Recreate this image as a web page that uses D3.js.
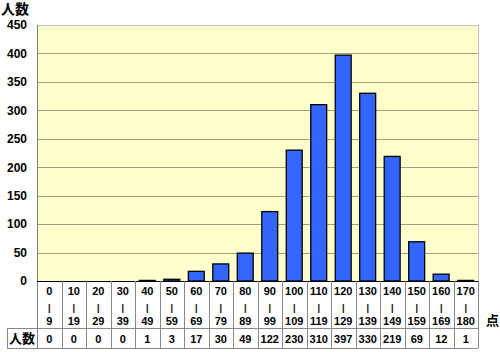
<!DOCTYPE html>
<html>
<head>
<meta charset="utf-8">
<script src="https://cdn.jsdelivr.net/npm/d3@7"></script>
<style>
  body { margin: 0; background: #fff; }
  text { font-family: "Liberation Sans", Arial, sans-serif; }
  .jp { font-family: "Noto Sans CJK JP", sans-serif; font-weight: bold; }
</style>
</head>
<body>
<div id="chart"></div>
<script>
const lo = ["0","10","20","30","40","50","60","70","80","90","100","110","120","130","140","150","160","170"];
const hi = ["9","19","29","39","49","59","69","79","89","99","109","119","129","139","149","159","169","180"];
const counts = [0, 0, 0, 0, 1, 3, 17, 30, 49, 122, 230, 310, 397, 330, 219, 69, 12, 1];
const yTicks = [0, 50, 100, 150, 200, 250, 300, 350, 400, 450];

const width = 500, height = 352;
const mLeft = 37, mRight = 478, mTop = 25, mBottom = 281;
const row1 = 328, row2 = 348;

const svg = d3.select('#chart').append('svg')
    .attr('width', width)
    .attr('height', height);

const x = d3.scaleBand()
    .domain(d3.range(counts.length))
    .range([mLeft, mRight])
    .paddingInner(0.35)
    .paddingOuter(0.18);
const xs = d3.scaleBand()
    .domain(d3.range(counts.length))
    .range([mLeft, mRight]);
const y = d3.scaleLinear().domain([0, 450]).range([mBottom, mTop]);

// plot background
svg.append('rect')
    .attr('x', mLeft + 0.5).attr('y', mTop + 0.5)
    .attr('width', mRight - mLeft).attr('height', mBottom - mTop)
    .attr('fill', '#ffffcc')
    .attr('stroke', '#c0c0c0');

// gridlines
svg.append('g').selectAll('line')
    .data(yTicks.filter(d => d > 0 && d < 450))
    .enter().append('line')
    .attr('x1', mLeft).attr('x2', mRight)
    .attr('y1', d => Math.round(y(d)) + 0.5).attr('y2', d => Math.round(y(d)) + 0.5)
    .attr('stroke', '#a09f80');

// y labels
svg.append('g').selectAll('text')
    .data(yTicks)
    .enter().append('text')
    .attr('x', 27)
    .attr('y', d => y(d))
    .attr('dy', '0.36em')
    .attr('text-anchor', 'end')
    .attr('font-size', 12)
    .attr('font-weight', 'bold')
    .attr('fill', '#000')
    .text(d => d);

svg.append('text')
    .attr('class', 'jp')
    .attr('x', 1).attr('y', 14)
    .attr('font-size', 14)
    .text('人数');

// left axis line
svg.append('line')
    .attr('x1', mLeft + 0.5).attr('x2', mLeft + 0.5)
    .attr('y1', mTop).attr('y2', row2)
    .attr('stroke', '#808080');

// bars
svg.append('g').selectAll('rect')
    .data(counts)
    .enter().append('rect')
    .attr('x', (d, i) => x(i))
    .attr('y', d => y(d))
    .attr('width', x.bandwidth())
    .attr('height', d => mBottom - y(d))
    .attr('fill', '#3366ff')
    .attr('stroke', '#000')
    .attr('stroke-width', 1.3);

// table
const table = svg.append('g');
[mBottom, row1, row2].forEach(yy => {
  table.append('line')
    .attr('x1', yy === mBottom ? mLeft : 7).attr('x2', mRight)
    .attr('y1', yy + 0.5).attr('y2', yy + 0.5)
    .attr('stroke', yy === mBottom ? '#000' : '#888');
});
table.append('line')
    .attr('x1', 7.5).attr('x2', 7.5)
    .attr('y1', row1).attr('y2', row2)
    .attr('stroke', '#888');
table.selectAll('.sep')
    .data(d3.range(1, counts.length + 1))
    .enter().append('line')
    .attr('class', 'sep')
    .attr('x1', i => Math.round(xs(i - 1) + xs.bandwidth()) + 0.5)
    .attr('x2', i => Math.round(xs(i - 1) + xs.bandwidth()) + 0.5)
    .attr('y1', mBottom).attr('y2', row2)
    .attr('stroke', '#888');

const cx = i => xs(i) + xs.bandwidth() / 2;
const cell = table.selectAll('.cat')
    .data(counts)
    .enter().append('g')
    .attr('class', 'cat')
    .attr('font-size', 11)
    .attr('font-weight', 'bold')
    .attr('text-anchor', 'middle');
cell.append('text').attr('x', (d, i) => cx(i)).attr('y', 295).text((d, i) => lo[i]);
cell.append('text').attr('x', (d, i) => cx(i)).attr('y', 311)
    .attr('font-size', 9).text('|');
cell.append('text').attr('x', (d, i) => cx(i)).attr('y', 325).text((d, i) => hi[i]);
cell.append('text').attr('x', (d, i) => cx(i)).attr('y', 343).text(d => d);

table.append('text')
    .attr('class', 'jp')
    .attr('x', 22).attr('y', 343)
    .attr('text-anchor', 'middle')
    .attr('font-size', 13)
    .text('人数');

svg.append('text')
    .attr('class', 'jp')
    .attr('x', 486).attr('y', 325)
    .attr('font-size', 13)
    .text('点');
</script>
</body>
</html>
